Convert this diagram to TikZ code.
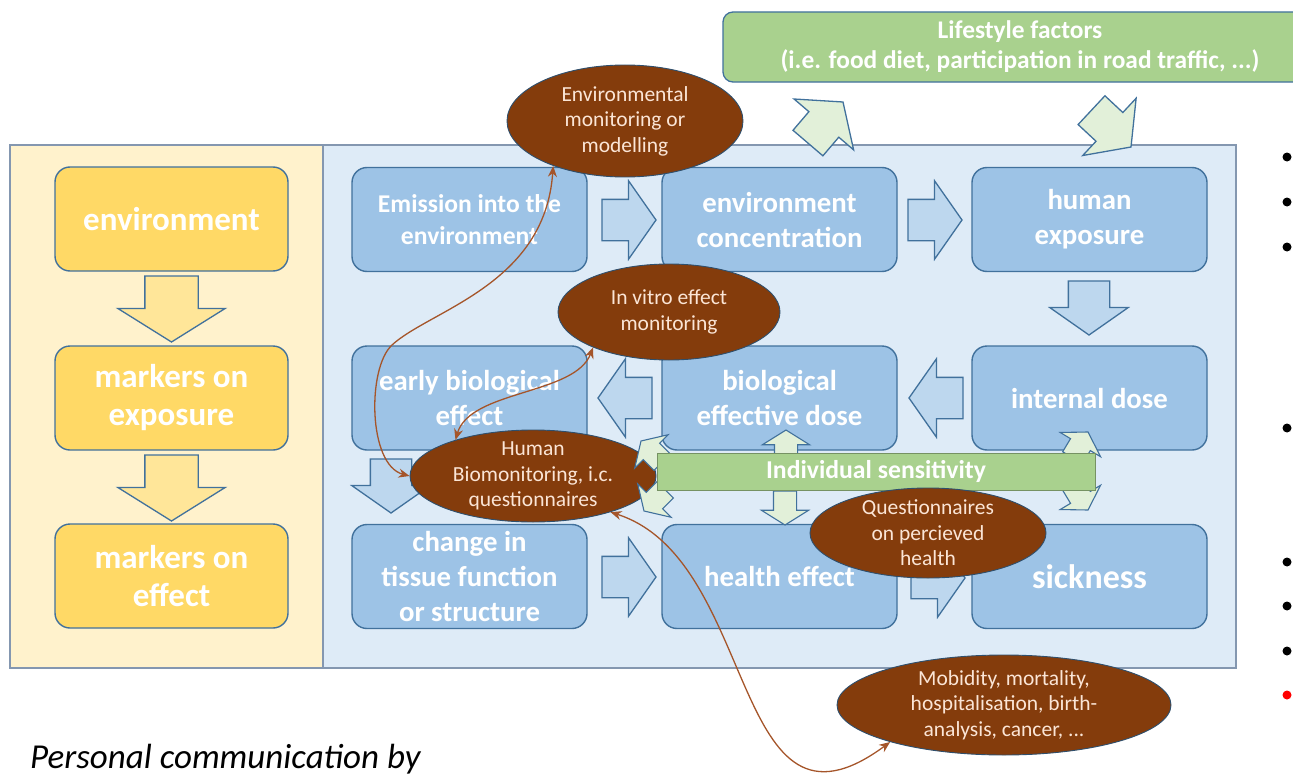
\documentclass[tikz,border=0pt]{standalone}
\usepackage{fontspec}
\setmainfont{Carlito}
\usepackage{xcolor}
\usepackage{tikz}
\usetikzlibrary{shapes,arrows,arrows.meta,positioning}

\definecolor{panelyel}{HTML}{FFF2CC}
\definecolor{boxyel}{HTML}{FFD966}
\definecolor{arryel}{HTML}{FFE699}
\definecolor{panelblue}{HTML}{DEEBF7}
\definecolor{boxblue}{HTML}{9DC3E6}
\definecolor{arrblue}{HTML}{BDD7EE}
\definecolor{edgeblue}{HTML}{41719C}
\definecolor{paneledge}{HTML}{8497B0}
\definecolor{lifegreen}{HTML}{A9D18E}
\definecolor{palegreen}{HTML}{E2F0D9}
\definecolor{brownfill}{HTML}{843C0C}
\definecolor{brownline}{HTML}{A5552A}
\definecolor{peach}{HTML}{FBE5D6}

\begin{document}
\begin{tikzpicture}[x=1pt, y=-1pt,
    yelbox/.style={draw=edgeblue, fill=boxyel, rounded corners=15pt, line width=1.4pt, minimum width=233pt, minimum height=104pt, inner sep=2pt, text=white, align=center, font=\bfseries\fontsize{33}{38}\selectfont},
    bluebox/.style={draw=edgeblue, fill=boxblue, rounded corners=15pt, line width=1.4pt, minimum width=235pt, minimum height=104pt, inner sep=2pt, text=white, align=center, font=\bfseries\fontsize{28.8}{35}\selectfont},
    blockarrow/.style={single arrow, draw=edgeblue, line width=1.3pt, inner xsep=0pt, outer sep=0pt, anchor=tip},
    bluearrow/.style={blockarrow, fill=arrblue, minimum height=54pt, inner ysep=20pt, single arrow head extend=18.5pt, single arrow tip angle=110},
    yelarrow/.style={blockarrow, fill=arryel, minimum height=66pt, inner ysep=26pt, single arrow head extend=27pt, single arrow tip angle=116},
    lifearrow/.style={blockarrow, fill=palegreen, minimum height=54pt, inner ysep=19pt, single arrow head extend=19.5pt, single arrow tip angle=106},
    smallarrow/.style={blockarrow, fill=palegreen, line width=1.1pt, minimum height=30pt, inner ysep=11pt, single arrow head extend=12pt, single arrow tip angle=116},
    method/.style={ellipse, draw=edgeblue!70!black, line width=0.9pt, fill=brownfill, text=peach, align=center, inner sep=-5pt, font=\fontsize{21.5}{25.5}\selectfont},
    link/.style={draw=brownline, line width=1.3pt, {Stealth[length=11pt,width=9pt]}-{Stealth[length=11pt,width=9pt]}}]

    \useasboundingbox (0,0) rectangle (1293,776);

    \draw[draw=paneledge, line width=1.6pt, fill=panelyel] (10,145) rectangle (323,668);
    \draw[draw=paneledge, line width=1.6pt, fill=panelblue] (323,145) rectangle (1236,668);

    \node[yelbox] (env) at (171.5,219) {environment};
    \node[yelbox] (mexp) at (171.5,398) {markers on\\exposure};
    \node[yelbox] (meff) at (171.5,576) {markers on\\effect};
    \node[yelarrow, rotate=-90] (ya1) at (171.5,342) {};
    \node[yelarrow, rotate=-90] (ya2) at (171.5,521) {};

    \node[bluebox, font=\bfseries\fontsize{25.6}{32}\selectfont] (emis) at (469.5,219.5) {Emission into the\\environment};
    \node[bluebox] (envc) at (779.5,219.5) {environment\\concentration};
    \node[bluebox] (hexp) at (1089.5,219.5) {human\\exposure};
    \node[bluebox] (early) at (469.5,398) {early biological\\effect};
    \node[bluebox] (bdose) at (779.5,398) {biological\\effective dose};
    \node[bluebox] (idose) at (1089.5,398) {internal dose};
    \node[bluebox] (tissue) at (469.5,576.5) {change in\\tissue function\\or structure};
    \node[bluebox] (heff) at (779.5,576.5) {health effect};
    \node[bluebox, font=\bfseries\fontsize{34}{40}\selectfont] (sick) at (1089.5,576.5) {sickness};

    \node[bluearrow] (a1) at (656,220) {};
    \node[bluearrow] (a2) at (962,220) {};
    \node[bluearrow, rotate=-90] (a3) at (1089,335) {};
    \node[bluearrow, rotate=180] (a4) at (909,398) {};
    \node[bluearrow, rotate=180] (a5) at (598,398) {};
    \node[bluearrow, rotate=-90] (a6) at (391,513) {};
    \node[bluearrow] (a7) at (656,577) {};
    \node[bluearrow] (a8) at (965,578) {};

    \node[draw=edgeblue, fill=lifegreen, rounded corners=10pt, line width=1.3pt, minimum width=594pt, minimum height=70pt, text=white, align=center, font=\bfseries\fontsize{25.4}{30}\selectfont] (life) at (1020,47) {Lifestyle factors\\(i.e. food diet, participation in road traffic, ...)};
    \node[lifearrow, rotate=49.5] (la1) at (843,102) {};
    \node[lifearrow, rotate=-43] (la2) at (1131,147) {};

    \node[method, minimum width=236pt, minimum height=112pt] (envmon) at (625,121) {Environmental\\monitoring or\\modelling};
    \node[method, minimum width=222pt, minimum height=96pt] (invitro) at (669,312) {In vitro effect\\monitoring};
    \node[method, minimum width=246pt, minimum height=92pt] (hbm) at (533,476) {Human\\Biomonitoring, i.c.\\questionnaires};

    \node[smallarrow, rotate=90] (s1) at (786,430) {};
    \node[smallarrow, rotate=-90, minimum height=34pt] (s2) at (785,525) {};
    \node[smallarrow, rotate=59] (s3) at (1088,432) {};
    \node[smallarrow, rotate=-59] (s4) at (1088,510) {};
    \node[smallarrow, rotate=135] (s5) at (641,441) {};
    \node[smallarrow, rotate=-135] (s6) at (644,511) {};
    \node[draw=lifegreen!70!black, fill=lifegreen, line width=0.8pt, minimum width=438pt, minimum height=37pt, inner sep=0pt, text=white, font=\bfseries\fontsize{25.7}{30}\selectfont] (sens) at (876,471.5) {Individual sensitivity};

    \node[method, minimum width=236pt, minimum height=90pt] (quest) at (928,533) {Questionnaires\\on percieved\\health};
    \node[method, minimum width=334pt, minimum height=100pt] (morb) at (1004,705) {Mobidity, mortality,\\hospitalisation, birth-\\analysis, cancer, ...};

    \draw[link] (envmon.212) .. controls (545,285) and (430,310) .. (392,345) .. controls (367,368) and (368,465) .. (hbm.west);
    \draw[link] (invitro.205) .. controls (575,395) and (470,390) .. (hbm.155);
    \draw[link] (hbm.-25) .. controls (760,560) and (730,860) .. (morb.198);

    \foreach \y in {157,202,247,428,562,606,651}
        \fill (1287,\y) circle (4.5pt);
    \fill[red] (1287,695) circle (4.5pt);

    \node[anchor=base west, inner sep=0pt, font=\itshape\fontsize{35}{42}\selectfont] (credit) at (30,768) {Personal communication by};
\end{tikzpicture}
\end{document}
